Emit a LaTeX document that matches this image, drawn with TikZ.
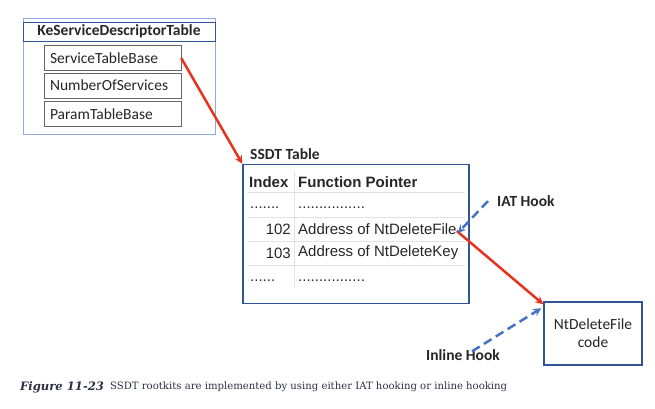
\documentclass[tikz,border=0pt]{standalone}
\usepackage{fontspec}
\setmainfont{Carlito}
\newfontfamily\arialfont{Liberation Sans}
\newfontfamily\capfont{DejaVu Serif}
\definecolor{darkblue}{HTML}{2F5597}
\definecolor{lightblue}{HTML}{8FAADC}
\definecolor{hookblue}{HTML}{4472C4}
\definecolor{arrowred}{HTML}{E8321E}
\definecolor{textgray}{HTML}{262626}
\definecolor{rulegray}{HTML}{E2E2E2}
\definecolor{capgray}{HTML}{2B2F45}
\tikzset{
  fieldbox/.style={draw=gray!80!black, text width=125pt, align=left, inner sep=6pt,
    minimum height=25pt, font=\fontsize{15.5}{17}\selectfont, text=textgray},
  celltext/.style={font=\arialfont\fontsize{15}{17}\selectfont, text=textgray, inner sep=0pt},
  hooklabel/.style={font=\bfseries\fontsize{15.5}{17}\selectfont, text=textgray, inner sep=0pt}
}

\begin{document}
\begin{tikzpicture}[x=1pt,y=-1pt]
\useasboundingbox (0,0) rectangle (655,408);
  % KeServiceDescriptorTable
  \node[draw=lightblue, minimum width=192pt, minimum height=116pt, inner sep=0pt] (ksdt) at (119,76) {};
  \node[draw=darkblue, line width=1pt, minimum width=192pt, minimum height=19pt, inner sep=0pt,
    font=\bfseries\fontsize{15.5}{17}\selectfont, text=textgray] (ktitle) at (119,31.5) {KeServiceDescriptorTable};
  \node[fieldbox] (stb) at (112.5,58) {ServiceTableBase};
  \node[fieldbox] (nos) at (112.5,85.5) {NumberOfServices};
  \node[fieldbox] (ptb) at (112.5,114) {ParamTableBase};

  % SSDT table
  \node[draw=darkblue, line width=1.5pt, minimum width=226pt, minimum height=139pt, inner sep=0pt] (ssdt) at (356,234) {};
  \node[hooklabel, anchor=west] (ssdtlabel) at (250,154) {SSDT Table};
  \foreach \y in {192,217,241,265}
    \draw[rulegray, line width=1pt] (247,\y) -- (465,\y);
  \draw[rulegray, line width=1pt] (294,171) -- (294,287);
  \node[celltext, anchor=west, font=\arialfont\bfseries\fontsize{15}{17}\selectfont] (idxhead) at (249,182) {Index};
  \node[celltext, anchor=west, font=\arialfont\bfseries\fontsize{15}{17}\selectfont] (fphead) at (298,182) {Function Pointer};
  \node[celltext, anchor=west] (idxa) at (250,208) {.......};
  \node[celltext, anchor=west] (fpa) at (298,208) {................};
  \node[celltext, anchor=east] (idx102) at (291,229) {102};
  \node[celltext, anchor=west] (addr102) at (298,229) {Address of NtDeleteFile};
  \node[celltext, anchor=east] (idx103) at (291,253) {103};
  \node[celltext, anchor=west] (addr103) at (298,253) {Address of NtDeleteKey};
  \node[celltext, anchor=west] (idxb) at (250,281) {......};
  \node[celltext, anchor=west] (fpb) at (298,281) {................};

  % target code
  \node[draw=darkblue, line width=1.5pt, minimum width=98pt, minimum height=63pt, align=center,
    font=\fontsize{15.5}{18}\selectfont, text=textgray] (code) at (593,333.5) {NtDeleteFile\\code};

  % hooks
  \node[hooklabel, anchor=west] (iat) at (497,201) {IAT Hook};
  \node[hooklabel] (inline) at (463,355) {Inline Hook};

  \draw[line width=2.5pt, -stealth, arrowred] (stb.east) -- (ssdt.north west);
  \draw[line width=2.5pt, -stealth, arrowred] ([yshift=-2pt]addr102.east) -- ([yshift=-3pt]code.north west);
  \draw[line width=2.5pt, dash pattern=on 9pt off 5pt, -stealth, hookblue] ([xshift=-9pt]iat.west) -- ([xshift=1pt,yshift=-4pt]addr102.east);
  \draw[line width=2.5pt, dash pattern=on 9pt off 5pt, -stealth, hookblue] ([xshift=9pt,yshift=-2pt]inline.north) -- ([xshift=-2pt,yshift=-7pt]code.north west);

  % caption
  \node[anchor=west, inner sep=0pt, font=\capfont\bfseries\itshape\fontsize{11.6}{14}\selectfont, text=capgray] (capnum) at (20,387) {Figure 11-23};
  \node[anchor=west, inner sep=0pt, font=\capfont\fontsize{10.1}{12}\selectfont, text=capgray] (captext) at (110,387) {SSDT rootkits are implemented by using either IAT hooking or inline hooking};
 \end{tikzpicture}
\end{document}
